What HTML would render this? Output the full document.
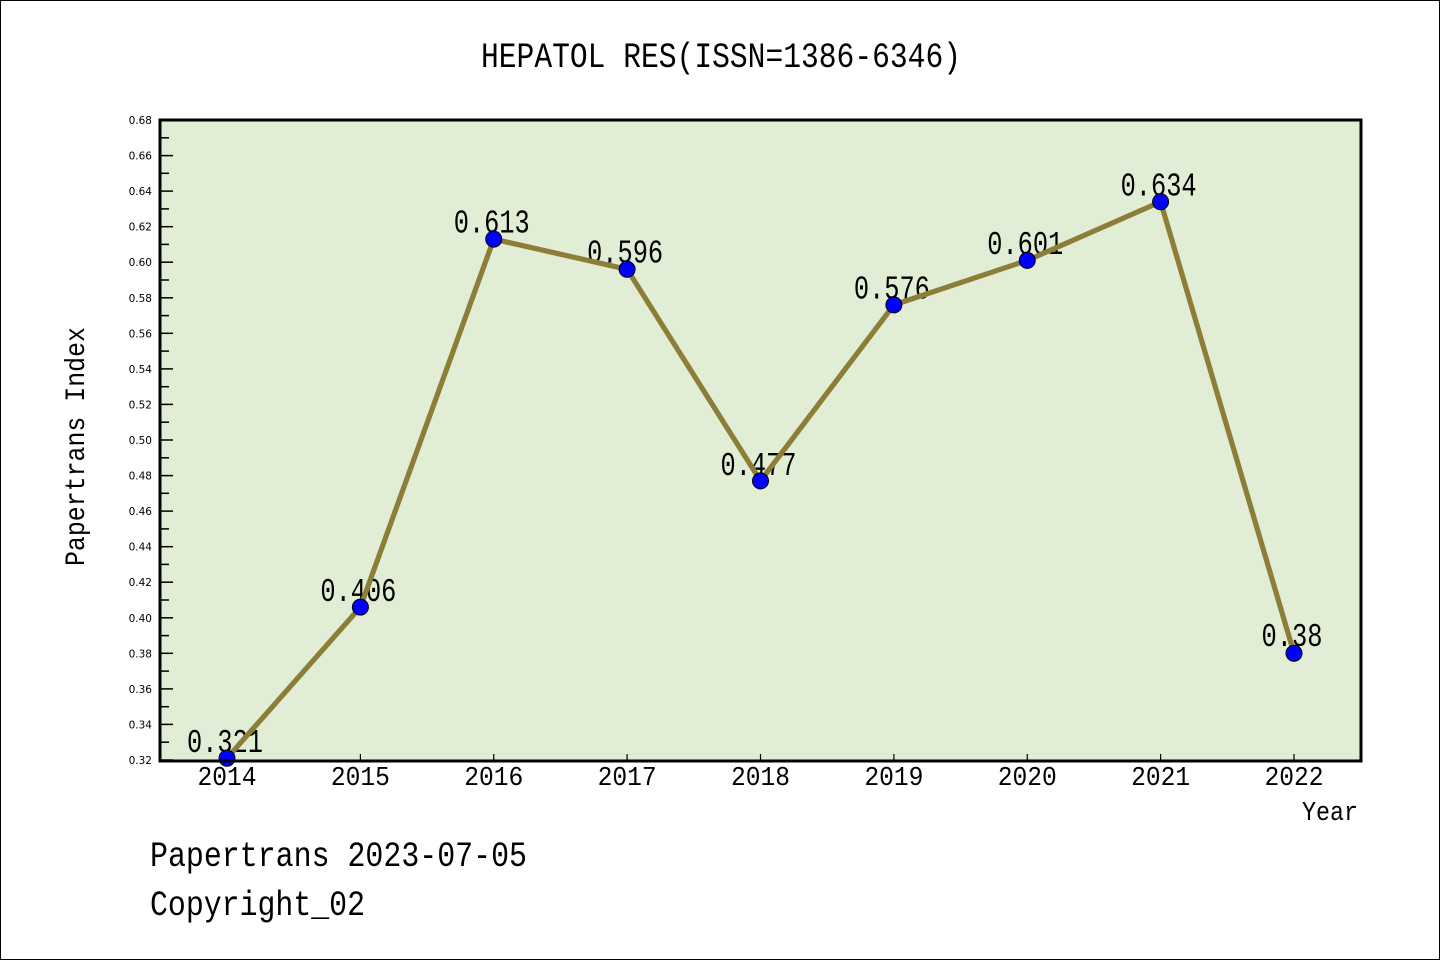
<!DOCTYPE html>
<html>
<head>
<meta charset="utf-8">
<style>
html,body{margin:0;padding:0;background:#fff;}
svg{display:block;}
</style>
</head>
<body>
<svg width="1440" height="960" viewBox="0 0 1440 960" xmlns="http://www.w3.org/2000/svg">
<rect x="0" y="0" width="1440" height="960" fill="#ffffff"/>
<rect x="0.5" y="0.5" width="1439" height="959" fill="none" stroke="#000" stroke-width="1"/>

<!-- title -->
<text x="481" y="67" font-family="Liberation Mono, monospace" font-size="35" textLength="480" lengthAdjust="spacingAndGlyphs" fill="#000">HEPATOL RES(ISSN=1386-6346)</text>

<!-- plot background -->
<rect x="160" y="120" width="1201" height="641" fill="#E1EED5"/>

<!-- y ticks -->
<g stroke="#000" stroke-width="1.5">
<line x1="160" y1="760" x2="173" y2="760"/><line x1="160" y1="742.2" x2="169" y2="742.2"/>
<line x1="160" y1="724.4" x2="173" y2="724.4"/><line x1="160" y1="706.7" x2="169" y2="706.7"/>
<line x1="160" y1="688.9" x2="173" y2="688.9"/><line x1="160" y1="671.1" x2="169" y2="671.1"/>
<line x1="160" y1="653.3" x2="173" y2="653.3"/><line x1="160" y1="635.6" x2="169" y2="635.6"/>
<line x1="160" y1="617.8" x2="173" y2="617.8"/><line x1="160" y1="600" x2="169" y2="600"/>
<line x1="160" y1="582.2" x2="173" y2="582.2"/><line x1="160" y1="564.4" x2="169" y2="564.4"/>
<line x1="160" y1="546.7" x2="173" y2="546.7"/><line x1="160" y1="528.9" x2="169" y2="528.9"/>
<line x1="160" y1="511.1" x2="173" y2="511.1"/><line x1="160" y1="493.3" x2="169" y2="493.3"/>
<line x1="160" y1="475.6" x2="173" y2="475.6"/><line x1="160" y1="457.8" x2="169" y2="457.8"/>
<line x1="160" y1="440" x2="173" y2="440"/><line x1="160" y1="422.2" x2="169" y2="422.2"/>
<line x1="160" y1="404.4" x2="173" y2="404.4"/><line x1="160" y1="386.7" x2="169" y2="386.7"/>
<line x1="160" y1="368.9" x2="173" y2="368.9"/><line x1="160" y1="351.1" x2="169" y2="351.1"/>
<line x1="160" y1="333.3" x2="173" y2="333.3"/><line x1="160" y1="315.6" x2="169" y2="315.6"/>
<line x1="160" y1="297.8" x2="173" y2="297.8"/><line x1="160" y1="280" x2="169" y2="280"/>
<line x1="160" y1="262.2" x2="173" y2="262.2"/><line x1="160" y1="244.4" x2="169" y2="244.4"/>
<line x1="160" y1="226.7" x2="173" y2="226.7"/><line x1="160" y1="208.9" x2="169" y2="208.9"/>
<line x1="160" y1="191.1" x2="173" y2="191.1"/><line x1="160" y1="173.3" x2="169" y2="173.3"/>
<line x1="160" y1="155.6" x2="173" y2="155.6"/><line x1="160" y1="137.8" x2="169" y2="137.8"/>
<line x1="160" y1="120" x2="173" y2="120"/>
</g>

<!-- y tick labels -->
<g font-family="DejaVu Sans, sans-serif" font-size="10.5" fill="#000" text-anchor="end">
<text x="152" y="764">0.32</text>
<text x="152" y="728.4">0.34</text>
<text x="152" y="692.9">0.36</text>
<text x="152" y="657.3">0.38</text>
<text x="152" y="621.8">0.40</text>
<text x="152" y="586.2">0.42</text>
<text x="152" y="550.7">0.44</text>
<text x="152" y="515.1">0.46</text>
<text x="152" y="479.6">0.48</text>
<text x="152" y="444">0.50</text>
<text x="152" y="408.4">0.52</text>
<text x="152" y="372.9">0.54</text>
<text x="152" y="337.3">0.56</text>
<text x="152" y="301.8">0.58</text>
<text x="152" y="266.2">0.60</text>
<text x="152" y="230.7">0.62</text>
<text x="152" y="195.1">0.64</text>
<text x="152" y="159.6">0.66</text>
<text x="152" y="124">0.68</text>
</g>

<!-- x ticks -->
<g stroke="#000" stroke-width="1.2">
<line x1="227" y1="760" x2="227" y2="754"/>
<line x1="360.4" y1="760" x2="360.4" y2="754"/>
<line x1="493.75" y1="760" x2="493.75" y2="754"/>
<line x1="627.1" y1="760" x2="627.1" y2="754"/>
<line x1="760.5" y1="760" x2="760.5" y2="754"/>
<line x1="893.9" y1="760" x2="893.9" y2="754"/>
<line x1="1027.25" y1="760" x2="1027.25" y2="754"/>
<line x1="1160.6" y1="760" x2="1160.6" y2="754"/>
<line x1="1294" y1="760" x2="1294" y2="754"/>
</g>

<!-- x tick labels -->
<g font-family="Liberation Mono, monospace" font-size="27" fill="#000" text-anchor="middle">
<text x="227" y="785" textLength="59" lengthAdjust="spacingAndGlyphs">2014</text>
<text x="360.4" y="785" textLength="59" lengthAdjust="spacingAndGlyphs">2015</text>
<text x="493.75" y="785" textLength="59" lengthAdjust="spacingAndGlyphs">2016</text>
<text x="627.1" y="785" textLength="59" lengthAdjust="spacingAndGlyphs">2017</text>
<text x="760.5" y="785" textLength="59" lengthAdjust="spacingAndGlyphs">2018</text>
<text x="893.9" y="785" textLength="59" lengthAdjust="spacingAndGlyphs">2019</text>
<text x="1027.25" y="785" textLength="59" lengthAdjust="spacingAndGlyphs">2020</text>
<text x="1160.6" y="785" textLength="59" lengthAdjust="spacingAndGlyphs">2021</text>
<text x="1294" y="785" textLength="59" lengthAdjust="spacingAndGlyphs">2022</text>
</g>

<!-- axis titles -->
<text x="1302" y="820" font-family="Liberation Mono, monospace" font-size="27" textLength="56" lengthAdjust="spacingAndGlyphs" fill="#000">Year</text>
<text transform="translate(84,446.5) rotate(-90)" x="0" y="0" text-anchor="middle" font-family="Liberation Mono, monospace" font-size="28" textLength="239" lengthAdjust="spacingAndGlyphs" fill="#000">Papertrans Index</text>

<!-- data labels -->
<g font-family="Liberation Mono, monospace" font-size="33" fill="#000" text-anchor="middle">
<text x="225" y="752" textLength="76" lengthAdjust="spacingAndGlyphs">0.321</text>
<text x="358.4" y="601" textLength="76" lengthAdjust="spacingAndGlyphs">0.406</text>
<text x="491.75" y="232.5" textLength="76" lengthAdjust="spacingAndGlyphs">0.613</text>
<text x="625.1" y="262.7" textLength="76" lengthAdjust="spacingAndGlyphs">0.596</text>
<text x="758.5" y="475" textLength="76" lengthAdjust="spacingAndGlyphs">0.477</text>
<text x="891.9" y="298.5" textLength="76" lengthAdjust="spacingAndGlyphs">0.576</text>
<text x="1025.25" y="254" textLength="76" lengthAdjust="spacingAndGlyphs">0.601</text>
<text x="1158.6" y="195.5" textLength="76" lengthAdjust="spacingAndGlyphs">0.634</text>
<text x="1292" y="646" textLength="61" lengthAdjust="spacingAndGlyphs">0.38</text>
</g>

<!-- series line -->
<polyline fill="none" stroke="#8C7D38" stroke-width="5.2" stroke-linejoin="round"
points="227,758.2 360.4,607.1 493.75,239.1 627.1,269.3 760.5,480.9 893.9,304.9 1027.25,260.4 1160.6,201.8 1294,653.3"/>

<!-- markers -->
<g fill="#0000FF" stroke="#000" stroke-width="1">
<circle cx="227" cy="758.2" r="8"/>
<circle cx="360.4" cy="607.1" r="8"/>
<circle cx="493.75" cy="239.1" r="8"/>
<circle cx="627.1" cy="269.3" r="8"/>
<circle cx="760.5" cy="480.9" r="8"/>
<circle cx="893.9" cy="304.9" r="8"/>
<circle cx="1027.25" cy="260.4" r="8"/>
<circle cx="1160.6" cy="201.8" r="8"/>
<circle cx="1294" cy="653.3" r="8"/>
</g>

<!-- plot border -->
<rect x="160" y="120" width="1201" height="641" fill="none" stroke="#000" stroke-width="3"/>

<!-- footer -->
<text x="150" y="866" font-family="Liberation Mono, monospace" font-size="35" textLength="377" lengthAdjust="spacingAndGlyphs" fill="#000">Papertrans 2023-07-05</text>
<text x="150" y="915" font-family="Liberation Mono, monospace" font-size="35" textLength="215" lengthAdjust="spacingAndGlyphs" fill="#000">Copyright_02</text>
</svg>
</body>
</html>
